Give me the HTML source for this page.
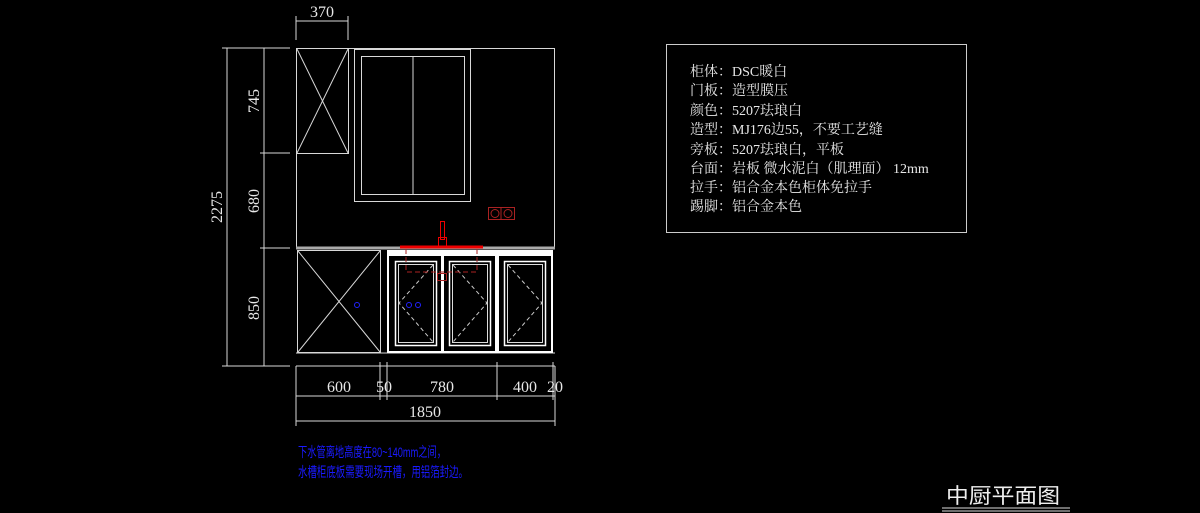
<!DOCTYPE html>
<html><head><meta charset="utf-8"><style>html,body{margin:0;padding:0;background:#000;}svg{display:block}</style></head><body>
<svg width="1200" height="513" xmlns="http://www.w3.org/2000/svg" font-family="Liberation Serif, Noto Serif CJK SC, serif">
<rect width="1200" height="513" fill="#000"/>
<g stroke="#d8d8d8" stroke-width="1" fill="none">
<line x1="296" y1="21" x2="348" y2="21"/>
<line x1="296" y1="16" x2="296" y2="40"/><line x1="348" y1="16" x2="348" y2="40"/>
<rect x="296.5" y="48.5" width="258" height="200"/>
<rect x="296.5" y="48.5" width="52" height="105"/>
<line x1="297" y1="49" x2="348" y2="153"/><line x1="348" y1="49" x2="297" y2="153"/>
<rect x="354.5" y="49.5" width="116" height="152"/>
<rect x="361.5" y="56.5" width="103" height="138"/>
<line x1="413" y1="57" x2="413" y2="195"/>
<line x1="227" y1="48" x2="227" y2="366"/>
<line x1="264" y1="48" x2="264" y2="366"/>
<line x1="222" y1="48" x2="290" y2="48"/>
<line x1="260" y1="153" x2="290" y2="153"/>
<line x1="260" y1="248" x2="290" y2="248"/>
<line x1="222" y1="366" x2="290" y2="366"/>
<rect x="297.5" y="250.5" width="83" height="102"/>
<line x1="298" y1="251" x2="380" y2="352"/><line x1="380" y1="251" x2="298" y2="352"/>
<line x1="296" y1="353" x2="555" y2="353"/>
<line x1="296" y1="366" x2="555" y2="366"/>
<line x1="296" y1="396" x2="555" y2="396"/>
<line x1="296" y1="421" x2="555" y2="421"/>
<line x1="296" y1="366" x2="296" y2="426"/>
<line x1="380" y1="362" x2="380" y2="400"/>
<line x1="387" y1="362" x2="387" y2="400"/>
<line x1="497" y1="362" x2="497" y2="400"/>
<line x1="553" y1="362" x2="553" y2="400"/>
<line x1="555" y1="366" x2="555" y2="426"/>
</g>
<line x1="296" y1="248" x2="555" y2="248" stroke="#aaa" stroke-width="3"/>
<rect x="387" y="250" width="166" height="103" fill="#fff"/>
<g fill="#000">
<rect x="389" y="256" width="52" height="95"/>
<rect x="444" y="256" width="51" height="95"/>
<rect x="499" y="256" width="52" height="95"/>
</g>
<g fill="none" stroke="#fff" stroke-width="1.5">
<rect x="395.5" y="261.5" width="41" height="84"/>
<rect x="449.5" y="261.5" width="41" height="84"/>
<rect x="504.5" y="261.5" width="41" height="84"/>
</g>
<g fill="none" stroke="#ddd" stroke-width="1">
<rect x="398.5" y="264.5" width="35" height="78"/>
<rect x="452.5" y="264.5" width="35" height="78"/>
<rect x="507.5" y="264.5" width="35" height="78"/>
</g>
<g stroke="#ccc" stroke-dasharray="4,3" fill="none">
<polyline points="433,265 399,303 433,342"/>
<polyline points="453,265 487,303 453,342"/>
<polyline points="508,265 542,303 508,342"/>
</g>
<g stroke="#e00" fill="none">
<line x1="400" y1="247" x2="483" y2="247" stroke-width="3"/>
<rect x="440.5" y="221.5" width="4" height="18"/>
<rect x="438.5" y="237.5" width="8" height="9"/>
<polyline points="406,249 406,272 477,272 477,249" stroke="#a22" stroke-dasharray="5,3"/>
<rect x="437.5" y="273.5" width="9" height="7" stroke="#a22"/>
<rect x="488.5" y="207.5" width="26" height="12" stroke="#a22"/>
<line x1="501" y1="208" x2="501" y2="219" stroke="#a22"/>
<circle cx="495" cy="213.5" r="4" stroke="#a22"/><circle cx="508" cy="213.5" r="4" stroke="#a22"/>
</g>
<g stroke="#22f" fill="none"><circle cx="357" cy="305" r="2.5"/><circle cx="409" cy="305" r="2.5"/><circle cx="418" cy="305" r="2.5"/></g>
<g fill="#e8e8e8" font-size="16" font-family="Liberation Serif, serif">
<text x="322" y="17" text-anchor="middle">370</text>
<text x="339" y="392" text-anchor="middle">600</text>
<text x="384" y="392" text-anchor="middle">50</text>
<text x="442" y="392" text-anchor="middle">780</text>
<text x="525" y="392" text-anchor="middle">400</text>
<text x="555" y="392" text-anchor="middle">20</text>
<text x="425" y="417" text-anchor="middle">1850</text>
<text transform="translate(222,207) rotate(-90)" text-anchor="middle">2275</text>
<text transform="translate(259,101) rotate(-90)" text-anchor="middle">745</text>
<text transform="translate(259,201) rotate(-90)" text-anchor="middle">680</text>
<text transform="translate(259,308) rotate(-90)" text-anchor="middle">850</text>
</g>
<rect x="666.5" y="44.5" width="300" height="188" fill="none" stroke="#ccc"/>
<g fill="#e8e8e8" font-size="14">
<text x="690" y="76">柜体：DSC暖白</text>
<text x="690" y="95">门板：造型膜压</text>
<text x="690" y="115">颜色：5207珐琅白</text>
<text x="690" y="134">造型：MJ176边55，不要工艺缝</text>
<text x="690" y="154">旁板：5207珐琅白，平板</text>
<text x="690" y="173">台面：岩板 微水泥白（肌理面） 12mm</text>
<text x="690" y="192">拉手：铝合金本色柜体免拉手</text>
<text x="690" y="211">踢脚：铝合金本色</text>
</g>
<g fill="#1a1aff" font-size="14" font-family="Liberation Sans, WenQuanYi Zen Hei, sans-serif">
<text x="298" y="457" textLength="148" lengthAdjust="spacingAndGlyphs">下水管离地高度在80~140mm之间，</text>
<text x="298" y="477" textLength="170" lengthAdjust="spacingAndGlyphs">水槽柜底板需要现场开槽，用铝箔封边。</text>
</g>
<text x="946" y="503" fill="#eee" font-size="21" font-family="WenQuanYi Zen Hei, sans-serif" textLength="114" lengthAdjust="spacingAndGlyphs">中厨平面图</text>
<line x1="942" y1="508" x2="1070" y2="508" stroke="#ddd"/>
<line x1="942" y1="511" x2="1070" y2="511" stroke="#ddd"/>
</svg>
</body></html>
